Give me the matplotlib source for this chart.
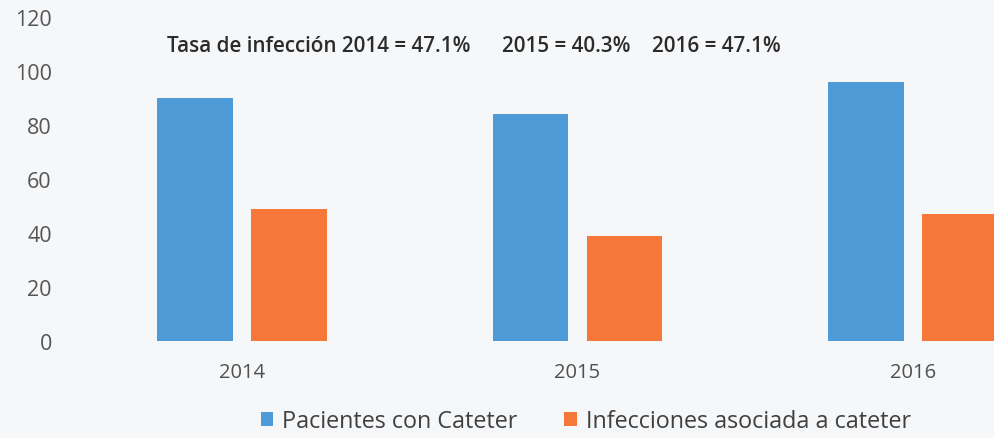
import numpy as np
import matplotlib.pyplot as plt

## DATA---------------------------------------------------------------------------
years = ['2014', '2015', '2016']
pacientes = [90, 84, 96]
infecciones = [49, 39, 47]
series_names = ['Pacientes con Cateter', 'Infecciones asociada a cateter']
rate_labels = ['Tasa de infección 2014 = 47.1%', '2015 = 40.3%', '2016 = 47.1%']
y_ticks = [0, 20, 40, 60, 80, 100, 120]
## -------------------------------------------------------------------------------

font_type = 'Open Sans'
blue = '#4f9bd8'
orange = '#f5773a'
bg = '#f6f7f9'

plt.rcParams['font.family'] = [font_type, 'DejaVu Sans']

fig = plt.figure(figsize=(9.95, 4.39), dpi=100, facecolor=bg)
# axes run past the right edge, the reference is cropped there
ax = fig.add_axes([74 / 995, 97 / 439, 1007 / 995, 324 / 439])
ax.set_facecolor(bg)

x = np.arange(len(years))
w = 0.226
off = 0.14
b1 = ax.bar(x - off, pacientes, w, color=blue, label=series_names[0])
b2 = ax.bar(x + off, infecciones, w, color=orange, label=series_names[1])

ax.set_xlim(-0.5, len(years) - 0.5)
ax.set_ylim(0, 120)
ax.set_yticks(y_ticks)
ax.set_yticklabels([str(t) for t in y_ticks], fontsize=15.5, color='#555555')
ax.set_xticks(x)
ax.set_xticklabels(years, fontsize=14.5, color='#505050')
ax.tick_params(axis='y', length=0, pad=16)
ax.tick_params(axis='x', length=0, pad=15)
for spine in ax.spines.values():
    spine.set_visible(False)

# rate annotations
rate_x = [167, 502, 652]
for txt, px in zip(rate_labels, rate_x):
    fig.text(px / 995, 1 - 47 / 439, txt, fontsize=14.9, fontweight='semibold',
             color='#2b2b2b', ha='left', va='center')

fig.legend(handles=[b1, b2], loc='center', bbox_to_anchor=(586 / 995, 17 / 439),
           ncol=2, frameon=False, fontsize=16.8, handlelength=0.52, handleheight=0.52,
           handletextpad=0.4, columnspacing=2.0, labelcolor='#404040')

fig.savefig('out.png', dpi=100, facecolor=bg)
